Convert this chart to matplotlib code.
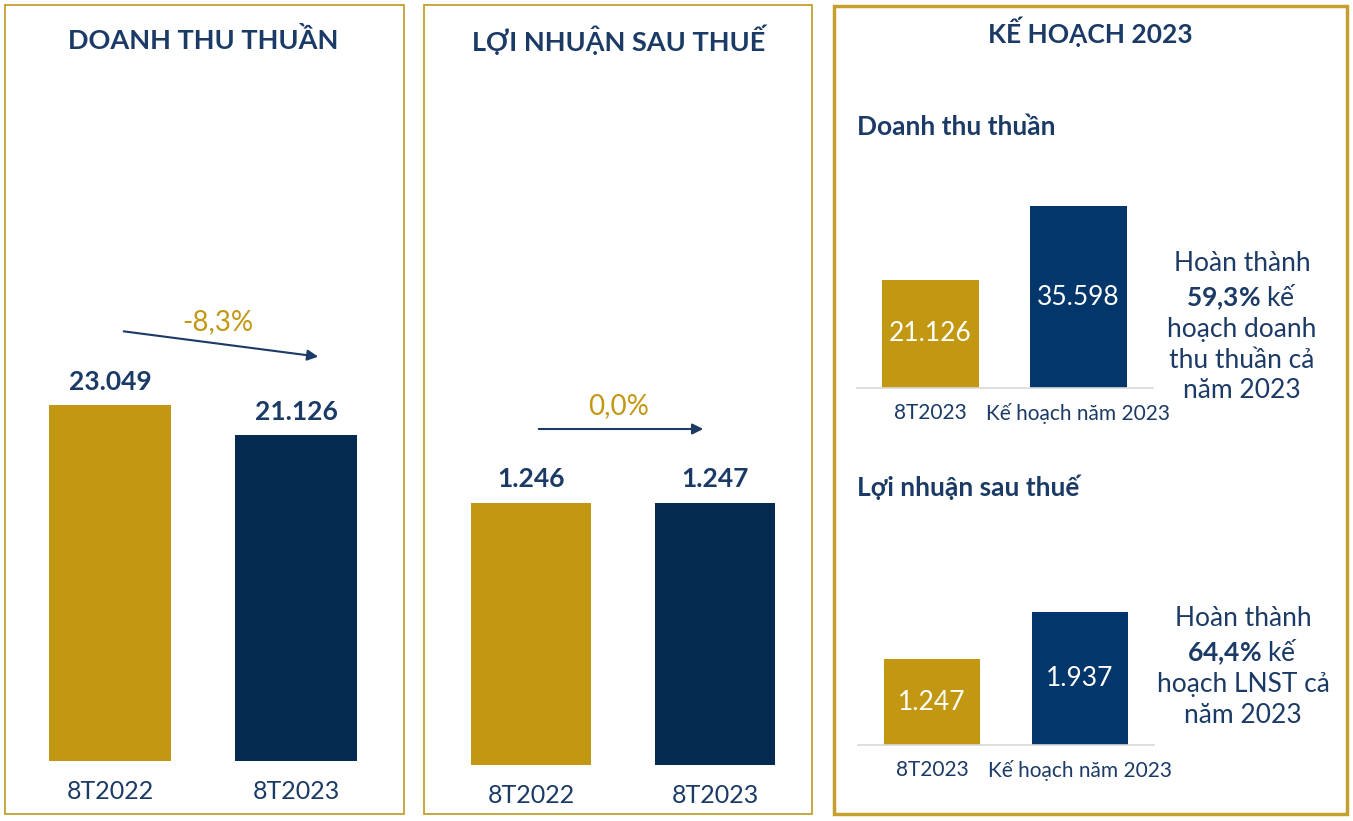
import matplotlib
matplotlib.use('Agg')
import matplotlib.pyplot as plt
from matplotlib.patches import Rectangle

# data
periods = ['8T2022', '8T2023']
revenue = [23049, 21126]
profit = [1246, 1247]
revenue_change = '-8,3%'
profit_change = '0,0%'

plan_labels = ['8T2023', 'Kế hoạch năm 2023']
plan_revenue = [21126, 35598]
plan_profit = [1247, 1937]
revenue_done = '59{,}3\\%'
profit_done = '64{,}4\\%'

GOLD = '#C29711'
NAVY = '#042A50'
NAVY2 = '#03366A'
TEXT = '#1B3A66'
BORDER = '#C4A02E'

plt.rcParams['font.family'] = ['Lato', 'Noto Sans', 'DejaVu Sans']
plt.rcParams['mathtext.fontset'] = 'custom'
plt.rcParams['mathtext.rm'] = 'Lato'
plt.rcParams['mathtext.bf'] = 'Lato:bold'

W, H = 1353, 821
fig = plt.figure(figsize=(W / 100, H / 100), dpi=100)


def fmt(v):
    return f'{v:,}'.replace(',', '.')


def px_axes(x0, x1, ytop, ybot):
    ax = fig.add_axes([x0 / W, 1 - ybot / H, (x1 - x0) / W, (ybot - ytop) / H])
    for s in ['top', 'left', 'right', 'bottom']:
        ax.spines[s].set_visible(False)
    ax.set_yticks([])
    ax.set_xlim(-0.5, 1.5)
    return ax


def box(x0, x1, y0, y1, lw):
    fig.add_artist(Rectangle((x0 / W, 1 - y1 / H), (x1 - x0) / W, (y1 - y0) / H,
                             transform=fig.transFigure, fill=False, ec=BORDER, lw=lw))


# panel borders
box(5, 404, 5, 814, 1.3)
box(424, 812, 5, 814, 1.3)
box(834, 1347, 6, 814, 2.5)

# ---- panel 1: doanh thu thuan
ax1 = px_axes(17, 389.5, 298, 761)
ax1.set_ylim(0, 30000)
ax1.bar([0, 1], revenue, width=0.655, color=[GOLD, NAVY])
for i, v in enumerate(revenue):
    ax1.annotate(fmt(v), (i, v), xytext=(0, 11), textcoords='offset points',
                 ha='center', va='baseline', fontsize=19, fontweight='bold', color=TEXT)
ax1.set_xticks([0, 1], periods)
ax1.tick_params(axis='x', length=0, pad=14, labelsize=18, labelcolor=TEXT)
fig.text(203 / W, 1 - 40 / H, 'DOANH THU THUẦN', ha='center', va='center',
         fontsize=19.5, fontweight='bold', color=TEXT)
ax1.annotate('', xy=(321, H - 357), xytext=(121, H - 331), xycoords='figure pixels',
             textcoords='figure pixels',
             arrowprops=dict(arrowstyle='-|>', color=TEXT, lw=1.5, mutation_scale=16))
fig.text(218 / W, 1 - 322 / H, revenue_change, ha='center', va='center',
         fontsize=20, color=GOLD)

# ---- panel 2: loi nhuan sau thue
ax2 = px_axes(439, 807, 302.4, 765)
ax2.set_ylim(0, 2200)
ax2.bar([0, 1], profit, width=0.652, color=[GOLD, NAVY])
for i, v in enumerate(profit):
    ax2.annotate(fmt(v), (i, v), xytext=(0, 11.5), textcoords='offset points',
                 ha='center', va='baseline', fontsize=19, fontweight='bold', color=TEXT)
ax2.set_xticks([0, 1], periods)
ax2.tick_params(axis='x', length=0, pad=14, labelsize=18, labelcolor=TEXT)
fig.text(619 / W, 1 - 40 / H, 'LỢI NHUẬN SAU THUẾ', ha='center', va='center',
         fontsize=19.5, fontweight='bold', color=TEXT)
ax2.annotate('', xy=(706, H - 429), xytext=(536, H - 429), xycoords='figure pixels',
             textcoords='figure pixels',
             arrowprops=dict(arrowstyle='-|>', color=TEXT, lw=1.5, mutation_scale=16))
fig.text(619 / W, 1 - 406 / H, profit_change, ha='center', va='center',
         fontsize=20, color=GOLD)

# ---- panel 3: ke hoach 2023
fig.text(1090 / W, 1 - 32 / H, 'KẾ HOẠCH 2023', ha='center', va='center',
         fontsize=19, fontweight='bold', color=TEXT)
fig.text(857 / W, 1 - 127 / H, 'Doanh thu thuần', ha='left', va='center',
         fontsize=19, fontweight='bold', color=TEXT)
fig.text(857 / W, 1 - 487 / H, 'Lợi nhuận sau thuế', ha='left', va='center',
         fontsize=19, fontweight='bold', color=TEXT)


def plan_chart(ax, vals):
    ax.bar([0, 1], vals, width=0.655, color=[GOLD, NAVY2])
    for i, v in enumerate(vals):
        ax.text(i, v / 2, fmt(v), ha='center', va='center', fontsize=19, color='white')
    ax.spines['bottom'].set_visible(True)
    ax.spines['bottom'].set_color('#D9D9D9')
    ax.spines['bottom'].set_linewidth(1.2)
    ax.set_xticks([0, 1], plan_labels)
    ax.tick_params(axis='x', length=0, pad=11, labelsize=15, labelcolor=TEXT)


ax3 = px_axes(856.5, 1152.5, 183.5, 388)
ax3.set_ylim(0, 40000)
plan_chart(ax3, plan_revenue)
fig.text(1242 / W, 1 - 327 / H,
         'Hoàn thành\n$\\mathbf{' + revenue_done + '}$ kế\nhoạch doanh\nthu thuần cả\nnăm 2023',
         ha='center', va='center', multialignment='center', linespacing=1.26,
         fontsize=19, color=TEXT)

ax4 = px_axes(858, 1154, 587, 745)
ax4.set_ylim(0, 2300)
plan_chart(ax4, plan_profit)
fig.text(1243 / W, 1 - 667 / H,
         'Hoàn thành\n$\\mathbf{' + profit_done + '}$ kế\nhoạch LNST cả\nnăm 2023',
         ha='center', va='center', multialignment='center', linespacing=1.26,
         fontsize=19, color=TEXT)

fig.savefig('out.png', dpi=100, facecolor='white')
